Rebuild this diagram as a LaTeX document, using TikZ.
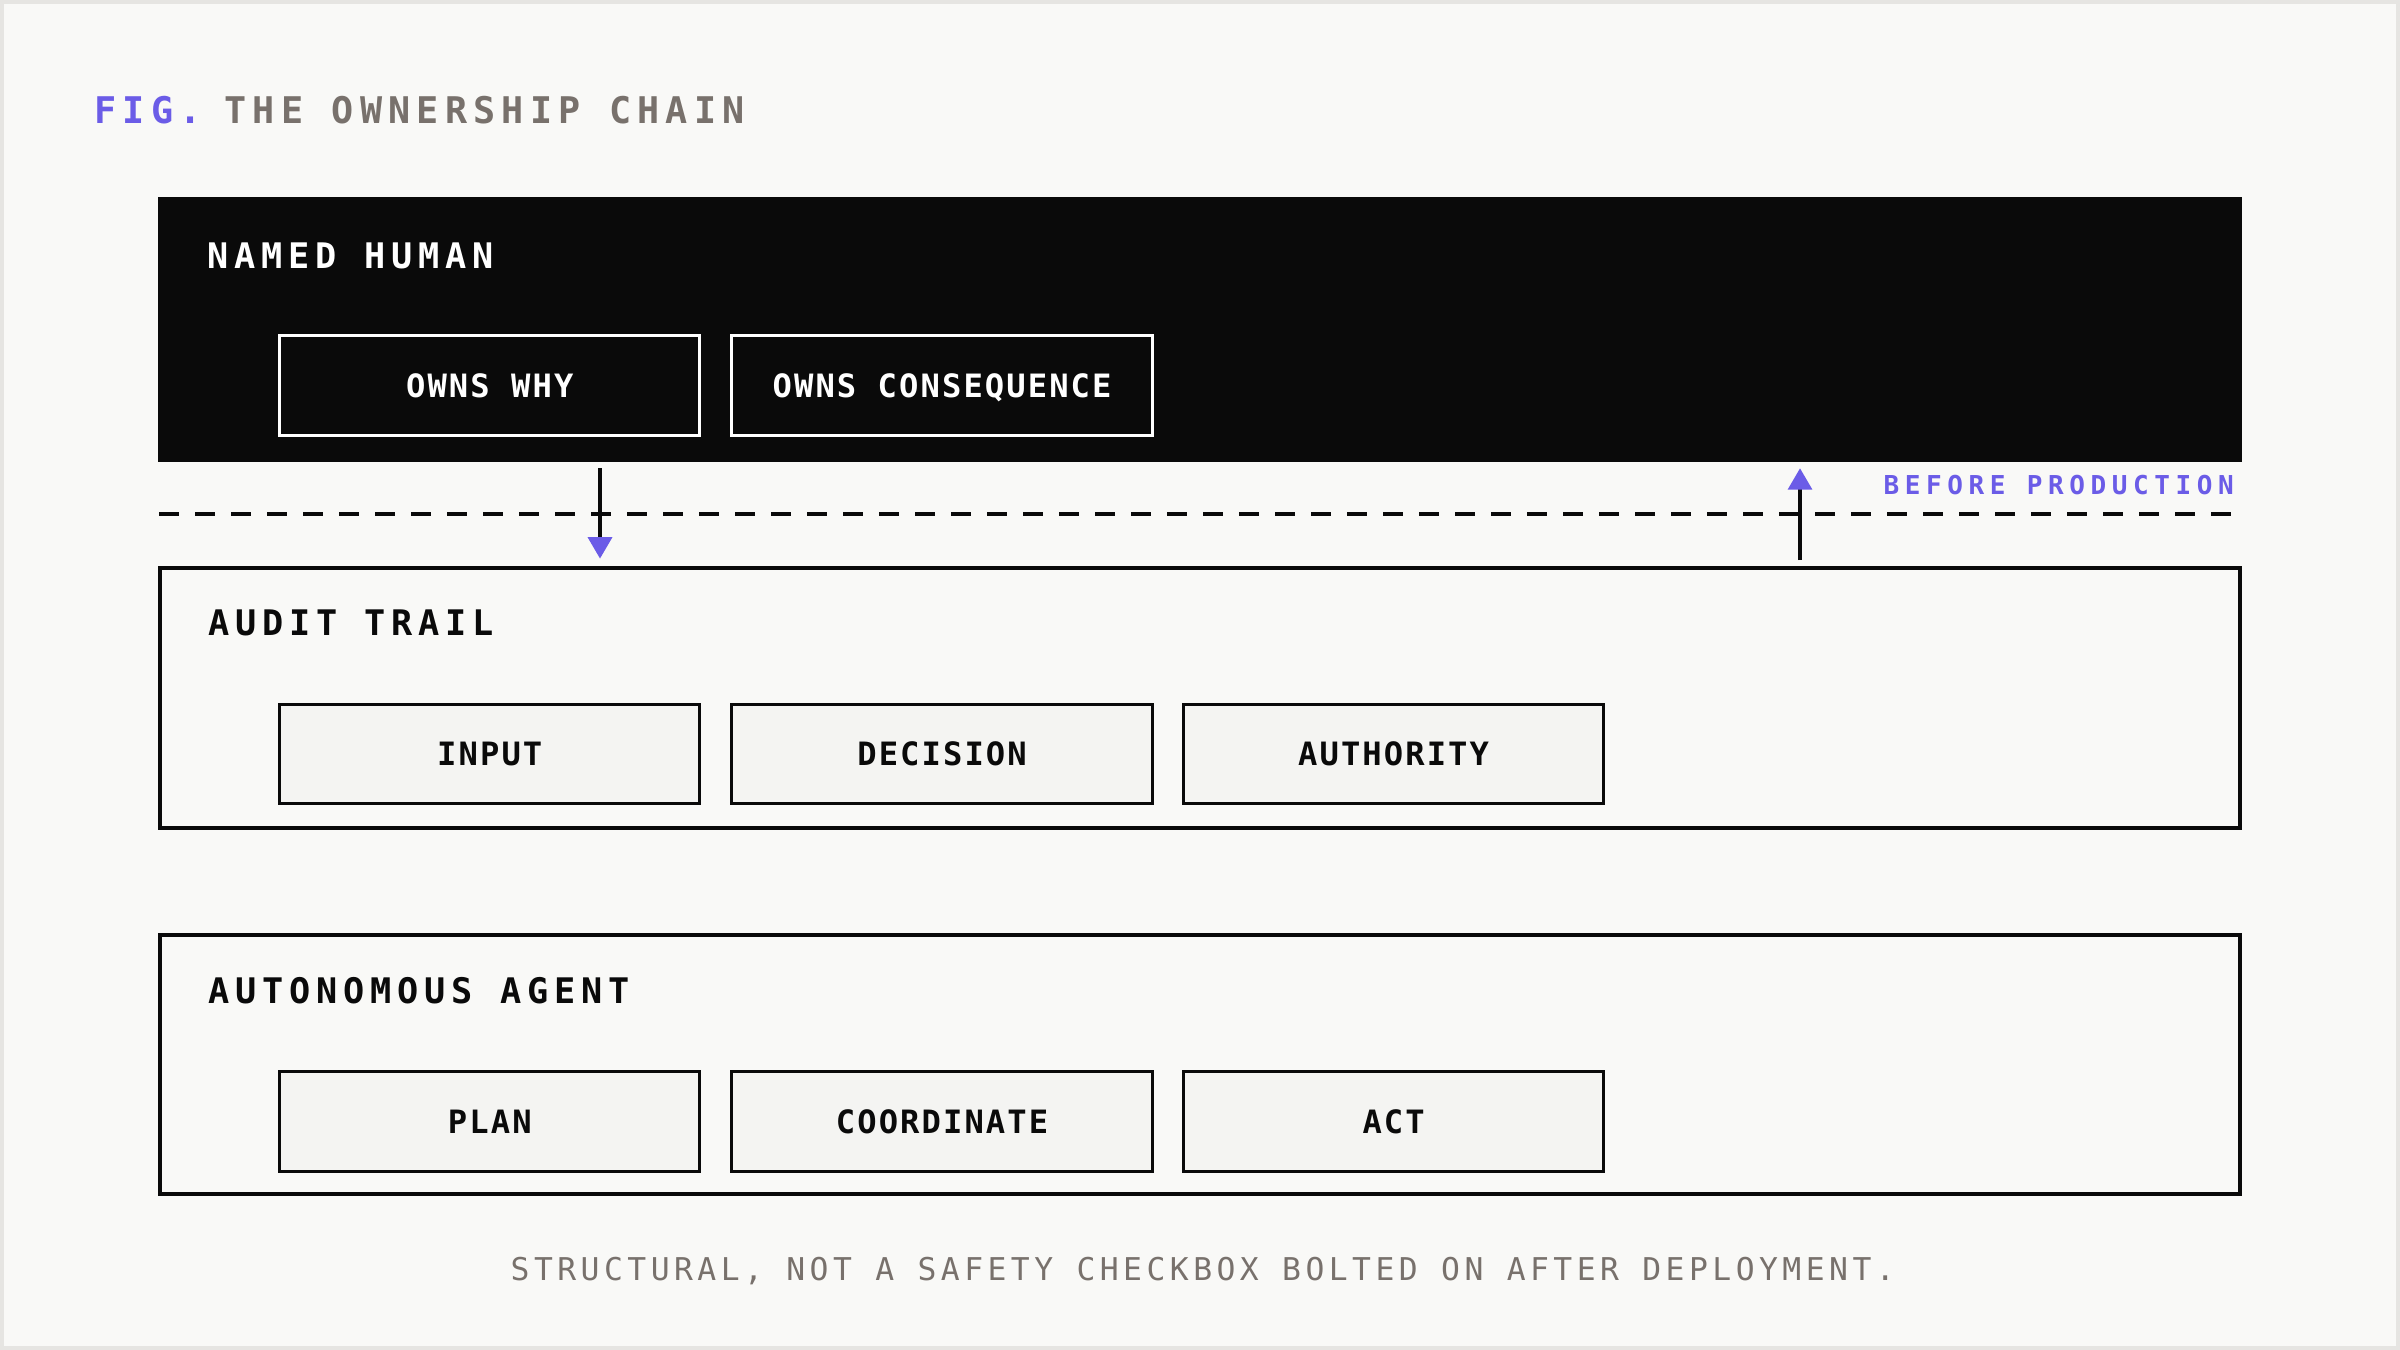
\documentclass[tikz,border=0pt]{standalone}
\usepackage{fontspec}
\usetikzlibrary{arrows.meta}
\newfontfamily\TitleFont[LetterSpace=17.0]{DejaVu Sans Mono}
\newfontfamily\SecFont[LetterSpace=16.6]{DejaVu Sans Mono}
\newfontfamily\LblFont[LetterSpace=6.5]{DejaVu Sans Mono}
\newfontfamily\BeforeFont[LetterSpace=21.5]{DejaVu Sans Mono}
\newfontfamily\FootFont[LetterSpace=14.2]{DejaVu Sans Mono}
\newcommand\UseTitleFont{\TitleFont\bfseries\fontsize{24}{26}\selectfont\frenchspacing\spaceskip 18.53pt\relax}
\newcommand\UseSecFont{\SecFont\bfseries\fontsize{23}{25}\selectfont\frenchspacing\spaceskip 17.67pt\relax}
\newcommand\UseLblFont{\LblFont\bfseries\fontsize{21}{23}\selectfont\frenchspacing\spaceskip 14pt\relax}
\newcommand\UseBeforeFont{\BeforeFont\bfseries\fontsize{17}{19}\selectfont\frenchspacing\spaceskip 13.9pt\relax}
\newcommand\UseFootFont{\FootFont\fontsize{20.5}{22}\selectfont\frenchspacing\spaceskip 15.26pt\relax}
\definecolor{bg}{HTML}{F9F9F7}
\definecolor{frame}{HTML}{E6E5E2}
\definecolor{ink}{HTML}{0A0A0A}
\definecolor{purp}{HTML}{6B5CE7}
\definecolor{warmgray}{HTML}{78716C}
\definecolor{boxfill}{HTML}{F4F4F2}
\tikzset{
  bigbox/.style={draw=ink, line width=2.6pt, fill=bg, minimum width=1359.4pt,
    minimum height=169.4pt, inner sep=0pt, anchor=north west},
  ibox/.style={draw=ink, line width=2pt, fill=boxfill, minimum width=274.6pt,
    minimum height=65.2pt, inner sep=0pt, text=ink, font=\UseLblFont,
    text height=15.3pt, text depth=0pt},
  wbox/.style={ibox, draw=white, fill=ink, text=white},
  seclabel/.style={anchor=base west, inner sep=0pt, font=\UseSecFont},
  titletext/.style={anchor=base west, inner sep=0pt, font=\UseTitleFont},
  flow/.style={draw=ink, line width=2.6pt},
  tipp/.style={-{Triangle[color=purp,length=14pt,width=15.5pt]}},
}
\begin{document}
\begin{tikzpicture}[x=1pt,y=-1pt]
\useasboundingbox (0,0) rectangle (1568,882);
\fill[bg] (0,0) rectangle (1568,882);
\draw[frame, line width=2.7pt] (1.35,1.35) rectangle (1566.65,880.65);

% title
\node[titletext, text=purp] (fig) at (61.5,81) {FIG.};
\node[titletext, text=warmgray] (title) at (146.5,81) {THE OWNERSHIP CHAIN};

% named human
\node[fill=ink, minimum width=1362pt, minimum height=172.7pt, inner sep=0pt, outer sep=0pt, anchor=north west] (human) at (103,128.9) {};
\node[seclabel, text=white] (humanlbl) at (135.5,175.3) {NAMED HUMAN};
\node[wbox] (why) at (320,252) {OWNS WHY};
\node[wbox] (cons) at (615.5,252) {OWNS CONSEQUENCE};

% audit trail
\node[bigbox] (audit) at (103,370) {};
\node[seclabel, text=ink] (auditlbl) at (136,415.5) {AUDIT TRAIL};
\node[ibox] (input) at (320,492.6) {INPUT};
\node[ibox] (decision) at (615.5,492.6) {DECISION};
\node[ibox] (authority) at (910.5,492.6) {AUTHORITY};

% autonomous agent
\node[bigbox] (agent) at (103,609.6) {};
\node[seclabel, text=ink] (agentlbl) at (136,655.5) {AUTONOMOUS AGENT};
\node[ibox] (plan) at (320,732.6) {PLAN};
\node[ibox] (coord) at (615.5,732.6) {COORDINATE};
\node[ibox] (act) at (910.5,732.6) {ACT};

% boundary
\coordinate (dl) at (104,335.6);
\coordinate (dr) at (1459,335.6);
\draw[draw=ink, line width=2.5pt, dash pattern=on 13.07pt off 10.45pt] (dl) -- (dr);
\node[anchor=base east, inner sep=0pt, text=purp, font=\UseBeforeFont]
  (before) at (1459.6,322.8) {BEFORE PRODUCTION};

% arrows
\coordinate (xa) at (392,0);
\coordinate (xb) at (1176,0);
\draw[flow, tipp, shorten <=4.2pt, shorten >=5pt] (xa |- human.south) -- (xa |- audit.north);
\draw[flow, tipp, shorten <=4.1pt, shorten >=4.3pt] (xb |- audit.north) -- (xb |- human.south);

% footer
\node[anchor=base, inner sep=0pt, text=warmgray, font=\UseFootFont]
  (foot) at (785.8,836.3) {STRUCTURAL, NOT A SAFETY CHECKBOX BOLTED ON AFTER DEPLOYMENT.};
\end{tikzpicture}
\end{document}
